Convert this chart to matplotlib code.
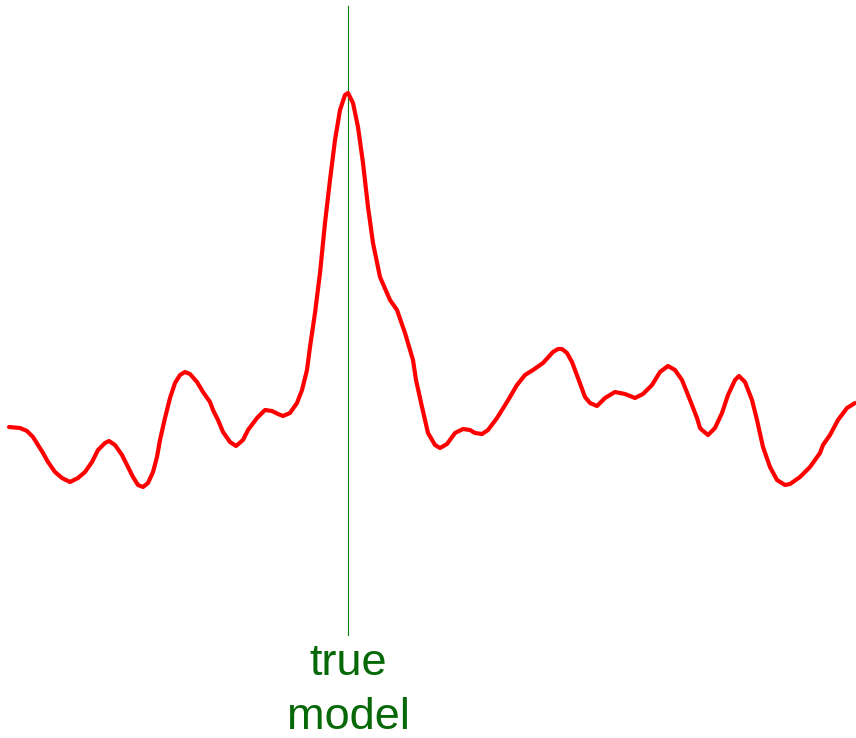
import numpy as np
import matplotlib.pyplot as plt

xs = [9, 20, 27, 33, 38, 43, 48, 55, 62, 70, 78, 85, 92, 98, 105, 109, 115,
      122, 128, 133, 138, 143, 148, 153, 157,
      160, 165, 170, 175, 180, 185, 190, 197, 203, 210, 213, 218, 223, 230,
      236, 243, 248, 257, 265, 272, 278, 283, 290, 297, 302, 307, 310,
      315, 320, 325, 330, 335, 340, 345, 348, 353, 358, 363, 368, 373, 380,
      390, 397, 405, 413,
      416, 422, 428, 435, 440, 447, 455, 463, 470, 475, 482, 488, 497, 507,
      517, 525, 533, 543, 553, 558, 562,
      567, 572, 578, 585, 590, 597, 605, 615, 625, 635, 643, 652, 660, 668,
      675, 682, 690, 697, 700,
      702, 708, 715, 722, 728, 735, 739, 745, 752, 757, 763, 770, 777, 785,
      790, 800, 810, 820, 823, 830, 838, 847, 855]
ys = [427, 428, 431, 437, 445, 453, 462, 472, 478, 482, 478, 472, 462, 450,
      443, 441, 445, 455, 467, 477, 485, 487, 483, 472, 457,
      440, 418, 398, 383, 375, 372, 374, 382, 392, 402, 410, 420, 432, 442,
      446, 440, 430, 418, 410, 411, 414, 416, 413, 403, 390, 370, 347,
      313, 273, 223, 180, 140, 110, 95, 93, 103, 127, 163, 207, 243, 277,
      300, 310, 333, 360,
      380, 407, 433, 445, 448, 444, 433, 429, 430, 433, 434, 430, 418, 402,
      385, 375, 370, 363, 352, 349, 349,
      353, 362, 378, 397, 403, 406, 398, 392, 394, 398, 394, 385, 372, 366,
      370, 380, 400, 418, 428,
      430, 435, 428, 413, 395, 380, 376, 382, 400, 420, 447, 467, 480, 485,
      484, 477, 467, 453, 445, 435, 420, 408, 403]

true_x = 348
line_top, line_bottom = 6, 635
labels = ["true", "model"]
label_base = [675, 729]

fig = plt.figure(figsize=(8.56, 7.38), dpi=100)
ax = fig.add_axes([0, 0, 1, 1])
ax.set_xlim(0, 856)
ax.set_ylim(738, 0)
ax.axis('off')

ax.plot([true_x, true_x], [line_top, line_bottom], color='green', lw=0.8)
ax.plot(xs, ys, color='red', lw=3, solid_capstyle='round', solid_joinstyle='round')

for lab, yb in zip(labels, label_base):
    ax.text(true_x, yb, lab, ha='center', va='baseline', fontsize=32.5,
            color='#076807', family='Liberation Sans')

fig.savefig('out.png', dpi=100)
